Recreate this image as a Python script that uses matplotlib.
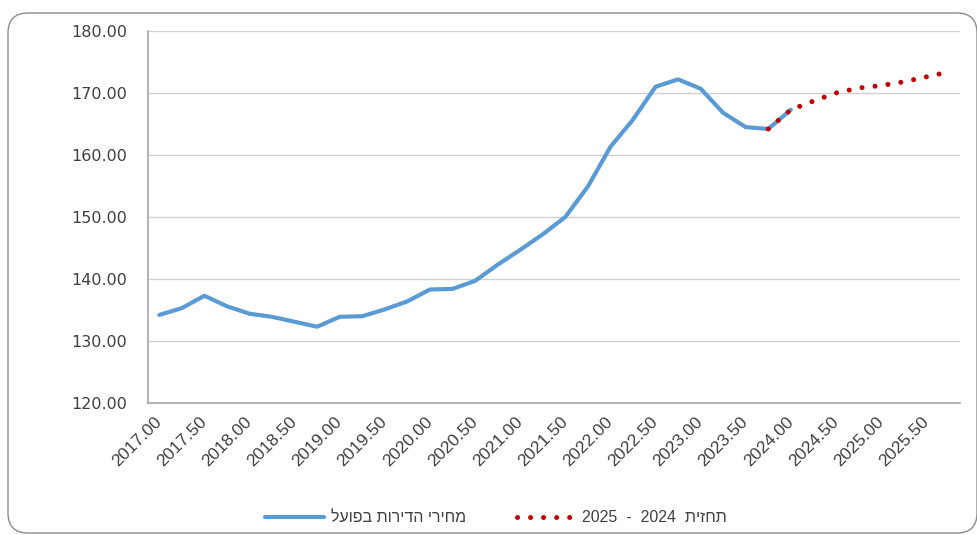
import matplotlib.pyplot as plt
from matplotlib.patches import FancyBboxPatch

# data (quarterly)
periods = [2017.00, 2017.25, 2017.50, 2017.75, 2018.00, 2018.25, 2018.50, 2018.75,
           2019.00, 2019.25, 2019.50, 2019.75, 2020.00, 2020.25, 2020.50, 2020.75,
           2021.00, 2021.25, 2021.50, 2021.75, 2022.00, 2022.25, 2022.50, 2022.75,
           2023.00, 2023.25, 2023.50, 2023.75, 2024.00, 2024.25, 2024.50, 2024.75,
           2025.00, 2025.25, 2025.50, 2025.75]
actual = [134.2, 135.3, 137.3, 135.6, 134.4, 133.9, 133.1, 132.3,
          133.9, 134.0, 135.1, 136.4, 138.3, 138.4, 139.7, 142.3,
          144.7, 147.2, 150.0, 154.9, 161.3, 165.7, 171.0, 172.2,
          170.7, 166.8, 164.5, 164.2, 167.3]
forecast = [164.2, 167.3, 168.7, 170.0, 170.8, 171.2, 171.8, 172.6, 173.4]
forecast_start = 27

label_actual = "מחירי הדירות בפועל"
label_forecast = "תחזית  2024  -  2025"


def rtl(s):
    # matplotlib has no bidi support, so lay hebrew out in visual order
    words = s.split(' ')
    out = []
    for w in reversed(words):
        if any('\u0590' <= c <= '\u05ff' for c in w):
            out.append(w[::-1])
        else:
            out.append(w)
    return ' '.join(out)


fig = plt.figure(figsize=(9.78, 5.35), dpi=100)
fig.patch.set_facecolor('white')

# rounded chart frame (display coords, origin bottom-left)
frame = FancyBboxPatch((8, 2), 969, 520, boxstyle="round,pad=0,rounding_size=20",
                       transform=None, facecolor='none', edgecolor='#8c8c8c',
                       linewidth=1.0, zorder=-1)
fig.patches.append(frame)

ax = fig.add_axes([148 / 978, 1 - 403 / 535, (960 - 148) / 978, (403 - 31) / 535])
ax.set_facecolor('none')

x_act = list(range(len(actual)))
x_fc = list(range(forecast_start, forecast_start + len(forecast)))

ax.plot(x_act, actual, color='#5b9bd5', linewidth=3, solid_capstyle='round',
        solid_joinstyle='round', label=rtl(label_actual), zorder=3)
ax.plot(x_fc, forecast, color='#c00000', linewidth=3.6, linestyle=(0, (0.01, 2.6)),
        dash_capstyle='round', label=rtl(label_forecast), zorder=4)

ax.set_xlim(-0.5, len(periods) - 0.5)
ax.set_ylim(120, 180)
ax.set_yticks([120, 130, 140, 150, 160, 170, 180])
ax.set_yticklabels(['%.2f' % v for v in [120, 130, 140, 150, 160, 170, 180]],
                   fontsize=11.5, color='#404040', family='DejaVu Sans')

tick_pos = list(range(0, len(periods), 2))
ax.set_xticks(tick_pos)
ax.set_xticklabels(['%.2f' % periods[i] for i in tick_pos], rotation=45, ha='right',
                   va='center', rotation_mode='anchor', fontsize=12.5, color='#404040',
                   family=['Liberation Sans', 'DejaVu Sans'])

ax.tick_params(axis='both', length=0)
ax.tick_params(axis='y', pad=15)
ax.tick_params(axis='x', pad=12)

ax.grid(axis='y', color='#d0d0d0', linewidth=1)
ax.set_axisbelow(True)
for s in ['top', 'right']:
    ax.spines[s].set_visible(False)
for s in ['left', 'bottom']:
    ax.spines[s].set_color('#a6a6a6')
    ax.spines[s].set_linewidth(1.2)

leg = fig.legend(loc='center', bbox_to_anchor=(496 / 978, 1 - 518 / 535), ncol=2,
                 frameon=False, handlelength=3.7, columnspacing=3.2, handletextpad=0.4,
                 prop={'family': ['Liberation Sans', 'DejaVu Sans'], 'size': 11.5})
for t in leg.get_texts():
    t.set_color('#404040')

fig.savefig('out.png', dpi=100)
